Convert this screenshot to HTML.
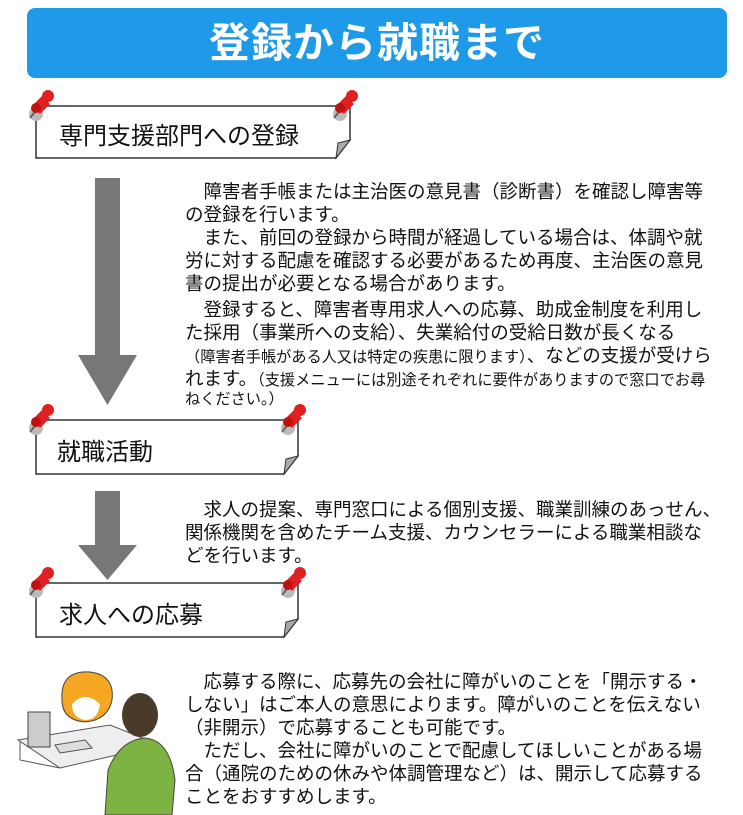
<!DOCTYPE html>
<html><head><meta charset="utf-8"><style>
body{margin:0;width:743px;height:815px;background:#fff;position:relative;overflow:hidden;font-family:"Liberation Sans","Noto Sans CJK JP",sans-serif;color:#111}
.h{position:absolute;left:27px;top:8px;width:700px;height:70px;background:#1e9ae8;border-radius:8px;color:#fff;font-weight:bold;font-size:41px;text-align:center;line-height:70px;letter-spacing:1px}
.l{position:absolute;white-space:nowrap;font-size:18.5px;line-height:23px}
.s{font-size:15.2px}
.b{position:absolute;font-size:24px;white-space:nowrap}
svg{position:absolute;left:0;top:0}
</style></head><body>
<div class="h">登録から就職まで</div>
<svg width="743" height="815">
<defs>
<g id="pin"><ellipse cx="8" cy="14" rx="7" ry="7" fill="#bbb"/><line x1="2" y1="18" x2="10" y2="8" stroke="#666" stroke-width="2"/><path d="M4 6 L14 -4 L22 4 L12 14 Z" fill="#e02020"/><circle cx="20" cy="-4" r="6" fill="#e02020"/><circle cx="8" cy="8" r="5" fill="#c01010"/></g>
</defs>
<path d="M36 106 H350 V140 L336 158 H36 Z" fill="#fff" stroke="#333" stroke-width="1.5"/>
<path d="M336 158 L350 140 L338 143 Z" fill="#aaa" stroke="#333"/>
<use href="#pin" x="28" y="100"/><use href="#pin" x="332" y="100"/>
<path d="M36 420 H298 V456 L284 474 H36 Z" fill="#fff" stroke="#333" stroke-width="1.5"/>
<path d="M284 474 L298 456 L286 459 Z" fill="#aaa" stroke="#333"/>
<use href="#pin" x="28" y="414"/><use href="#pin" x="280" y="414"/>
<path d="M36 583 H298 V619 L284 637 H36 Z" fill="#fff" stroke="#333" stroke-width="1.5"/>
<path d="M284 637 L298 619 L286 622 Z" fill="#aaa" stroke="#333"/>
<use href="#pin" x="28" y="577"/><use href="#pin" x="280" y="577"/>
<rect x="95" y="178" width="25" height="178" fill="#777"/><path d="M78 355 H137 L107.5 405 Z" fill="#777"/>
<rect x="95" y="491" width="25" height="55" fill="#777"/><path d="M78 545 H137 L107.5 580 Z" fill="#777"/>
<path d="M18 740 L110 725 L160 745 L60 768 Z" fill="#eee" stroke="#555"/>
<path d="M20 742 V760 L60 768" fill="none" stroke="#555"/>
<rect x="28" y="712" width="22" height="35" fill="#ccc" stroke="#444"/>
<path d="M55 745 L85 740 L92 748 L60 753 Z" fill="#ddd" stroke="#555"/>
<path d="M62 700 Q60 670 90 672 Q115 675 112 700 Q108 720 85 722 Q62 720 62 700 Z" fill="#f5a623" stroke="#444"/>
<path d="M72 704 Q85 690 100 704 Q98 720 85 720 Q72 718 72 704Z" fill="#fff"/>
<path d="M105 815 L108 770 Q120 740 145 738 Q170 740 175 780 L172 815 Z" fill="#7cb342" stroke="#444"/>
<ellipse cx="140" cy="715" rx="18" ry="22" fill="#4a3a2a"/>
</svg>
<div class="b" style="left:59px;top:116px">専門支援部門への登録</div>
<div class="b" style="left:57px;top:432px">就職活動</div>
<div class="b" style="left:59px;top:595px">求人への応募</div>

<div class="l" style="left:185px;top:180px">　障害者手帳または主治医の意見書（診断書）を確認し障害等</div>
<div class="l" style="left:185px;top:203px">の登録を行います。</div>
<div class="l" style="left:185px;top:226px">　また、前回の登録から時間が経過している場合は、体調や就</div>
<div class="l" style="left:185px;top:249px">労に対する配慮を確認する必要があるため再度、主治医の意見</div>
<div class="l" style="left:185px;top:272px">書の提出が必要となる場合があります。</div>
<div class="l" style="left:185px;top:298px">　登録すると、障害者専用求人への応募、助成金制度を利用し</div>
<div class="l" style="left:185px;top:321px">た採用（事業所への支給）、失業給付の受給日数が長くなる</div>
<div class="l" style="left:185px;top:344px"><span class="s">（障害者手帳がある人又は特定の疾患に限ります）</span>、などの支援が受けら</div>
<div class="l" style="left:185px;top:367px">れます。<span class="s">（支援メニューには別途それぞれに要件がありますので窓口でお尋</span></div>
<div class="l s" style="left:185px;top:388px">ねください。）</div>

<div class="l" style="left:185px;top:498px">　求人の提案、専門窓口による個別支援、職業訓練のあっせん、</div>
<div class="l" style="left:185px;top:521px">関係機関を含めたチーム支援、カウンセラーによる職業相談な</div>
<div class="l" style="left:185px;top:544px">どを行います。</div>

<div class="l" style="left:185px;top:670px">　応募する際に、応募先の会社に障がいのことを「開示する・</div>
<div class="l" style="left:185px;top:693px">しない」はご本人の意思によります。障がいのことを伝えない</div>
<div class="l" style="left:185px;top:716px">（非開示）で応募することも可能です。</div>
<div class="l" style="left:185px;top:739px">　ただし、会社に障がいのことで配慮してほしいことがある場</div>
<div class="l" style="left:185px;top:762px">合（通院のための休みや体調管理など）は、開示して応募する</div>
<div class="l" style="left:185px;top:785px">ことをおすすめします。</div>
</body></html>
